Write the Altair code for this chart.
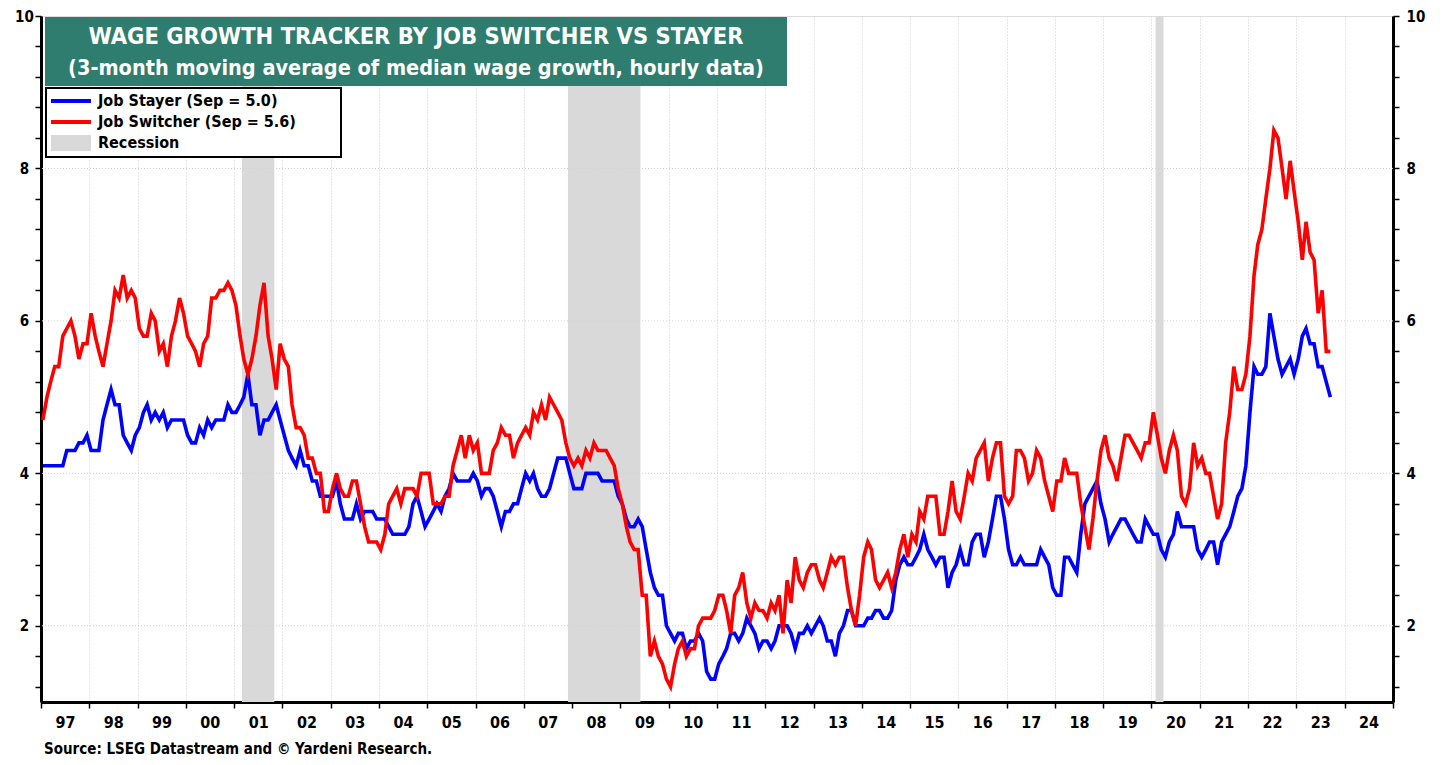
import altair as alt
import pandas as pd

# ---------------- data (monthly, Jan 1997 .. Sep 2023) ----------------
START_MONTH = "1997-01-01"

job_stayer = [
    4.1, 4.1, 4.1, 4.1, 4.1, 4.1, 4.3, 4.3, 4.3, 4.4, 4.4, 4.5,  # 1997
    4.3, 4.3, 4.3, 4.7, 4.9, 5.1, 4.9, 4.9, 4.5, 4.4, 4.3, 4.5,  # 1998
    4.6, 4.8, 4.9, 4.7, 4.8, 4.7, 4.8, 4.6, 4.7, 4.7, 4.7, 4.7,  # 1999
    4.5, 4.4, 4.4, 4.6, 4.5, 4.7, 4.6, 4.7, 4.7, 4.7, 4.9, 4.8,  # 2000
    4.8, 4.9, 5.0, 5.3, 4.9, 4.9, 4.5, 4.7, 4.7, 4.8, 4.9, 4.7,  # 2001
    4.5, 4.3, 4.2, 4.1, 4.3, 4.1, 4.1, 3.9, 3.9, 3.7, 3.7, 3.7,  # 2002
    3.7, 3.9, 3.6, 3.4, 3.4, 3.4, 3.6, 3.4, 3.5, 3.5, 3.5, 3.4,  # 2003
    3.4, 3.4, 3.3, 3.2, 3.2, 3.2, 3.2, 3.3, 3.6, 3.7, 3.5, 3.3,  # 2004
    3.4, 3.5, 3.6, 3.5, 3.7, 3.8, 4.0, 3.9, 3.9, 3.9, 3.9, 4.0,  # 2005
    3.9, 3.7, 3.8, 3.8, 3.7, 3.5, 3.3, 3.5, 3.5, 3.6, 3.6, 3.8,  # 2006
    4.0, 3.9, 4.0, 3.8, 3.7, 3.7, 3.8, 4.0, 4.2, 4.2, 4.2, 4.0,  # 2007
    3.8, 3.8, 3.8, 4.0, 4.0, 4.0, 4.0, 3.9, 3.9, 3.9, 3.9, 3.7,  # 2008
    3.6, 3.4, 3.3, 3.3, 3.4, 3.3, 3.0, 2.7, 2.5, 2.4, 2.4, 2.0,  # 2009
    1.9, 1.8, 1.9, 1.9, 1.7, 1.8, 1.8, 1.9, 1.8, 1.4, 1.3, 1.3,  # 2010
    1.5, 1.6, 1.7, 1.9, 1.9, 1.8, 1.9, 2.1, 2.0, 1.9, 1.7, 1.8,  # 2011
    1.8, 1.7, 1.8, 2.0, 2.0, 2.0, 1.9, 1.7, 1.9, 1.9, 2.0, 1.9,  # 2012
    2.0, 2.1, 2.0, 1.8, 1.8, 1.6, 1.9, 2.0, 2.2, 2.2, 2.0, 2.0,  # 2013
    2.0, 2.1, 2.1, 2.2, 2.2, 2.1, 2.1, 2.2, 2.6, 2.8, 2.9, 2.8,  # 2014
    2.8, 2.9, 3.0, 3.2, 3.0, 2.9, 2.8, 2.9, 2.9, 2.5, 2.7, 2.8,  # 2015
    3.0, 2.8, 2.8, 3.1, 3.2, 3.2, 2.9, 3.1, 3.4, 3.7, 3.7, 3.4,  # 2016
    3.0, 2.8, 2.8, 2.9, 2.8, 2.8, 2.8, 2.8, 3.0, 2.9, 2.8, 2.5,  # 2017
    2.4, 2.4, 2.9, 2.9, 2.8, 2.7, 3.2, 3.6, 3.7, 3.8, 3.9, 3.6,  # 2018
    3.4, 3.1, 3.2, 3.3, 3.4, 3.4, 3.3, 3.2, 3.1, 3.1, 3.4, 3.3,  # 2019
    3.2, 3.2, 3.0, 2.9, 3.1, 3.2, 3.5, 3.3, 3.3, 3.3, 3.3, 3.0,  # 2020
    2.9, 3.0, 3.1, 3.1, 2.8, 3.1, 3.2, 3.3, 3.5, 3.7, 3.8, 4.1,  # 2021
    4.8, 5.4, 5.3, 5.3, 5.4, 6.1, 5.8, 5.5, 5.3, 5.4, 5.5, 5.3,  # 2022
    5.5, 5.8, 5.9, 5.7, 5.7, 5.4, 5.4, 5.2, 5.0,                 # 2023
]

job_switcher = [
    4.7, 5.0, 5.2, 5.4, 5.4, 5.8, 5.9, 6.0, 5.8, 5.5, 5.7, 5.7,  # 1997
    6.1, 5.8, 5.6, 5.4, 5.7, 6.0, 6.4, 6.3, 6.6, 6.3, 6.4, 6.3,  # 1998
    5.9, 5.8, 5.8, 6.1, 6.0, 5.6, 5.7, 5.4, 5.8, 6.0, 6.3, 6.1,  # 1999
    5.8, 5.7, 5.6, 5.4, 5.7, 5.8, 6.3, 6.3, 6.4, 6.4, 6.5, 6.4,  # 2000
    6.2, 5.8, 5.5, 5.3, 5.5, 5.8, 6.2, 6.5, 5.8, 5.5, 5.1, 5.7,  # 2001
    5.5, 5.4, 4.9, 4.6, 4.6, 4.5, 4.2, 4.2, 4.0, 4.0, 3.5, 3.5,  # 2002
    3.8, 4.0, 3.8, 3.7, 3.7, 3.9, 3.9, 3.6, 3.3, 3.1, 3.1, 3.1,  # 2003
    3.0, 3.2, 3.6, 3.7, 3.8, 3.6, 3.8, 3.8, 3.8, 3.7, 4.0, 4.0,  # 2004
    4.0, 3.6, 3.6, 3.6, 3.7, 3.7, 4.1, 4.3, 4.5, 4.2, 4.5, 4.3,  # 2005
    4.4, 4.0, 4.0, 4.0, 4.3, 4.4, 4.6, 4.5, 4.5, 4.2, 4.4, 4.5,  # 2006
    4.6, 4.5, 4.8, 4.7, 4.9, 4.7, 5.0, 4.9, 4.8, 4.7, 4.4, 4.2,  # 2007
    4.1, 4.2, 4.1, 4.3, 4.2, 4.4, 4.3, 4.3, 4.3, 4.2, 4.1, 3.8,  # 2008
    3.6, 3.3, 3.1, 3.0, 3.0, 2.4, 2.4, 1.6, 1.8, 1.6, 1.5, 1.3,  # 2009
    1.2, 1.5, 1.7, 1.8, 1.6, 1.7, 1.7, 2.0, 2.1, 2.1, 2.1, 2.2,  # 2010
    2.4, 2.4, 2.2, 1.9, 2.4, 2.5, 2.7, 2.3, 2.1, 2.3, 2.2, 2.2,  # 2011
    2.1, 2.3, 2.2, 2.4, 1.9, 2.6, 2.3, 2.9, 2.6, 2.5, 2.7, 2.8,  # 2012
    2.8, 2.6, 2.5, 2.7, 2.9, 2.8, 2.9, 2.9, 2.5, 2.2, 2.0, 2.4,  # 2013
    2.9, 3.1, 3.0, 2.6, 2.5, 2.6, 2.7, 2.5, 2.7, 3.0, 3.2, 2.9,  # 2014
    3.2, 3.1, 3.5, 3.4, 3.7, 3.7, 3.7, 3.2, 3.2, 3.5, 3.9, 3.5,  # 2015
    3.4, 3.7, 4.0, 3.9, 4.2, 4.3, 4.4, 3.9, 4.2, 4.4, 4.4, 3.7,  # 2016
    3.6, 3.7, 4.3, 4.3, 4.2, 3.9, 4.0, 4.3, 4.2, 3.9, 3.7, 3.5,  # 2017
    3.9, 3.9, 4.2, 4.0, 4.0, 4.0, 3.6, 3.3, 3.0, 3.4, 3.9, 4.3,  # 2018
    4.5, 4.2, 4.1, 3.9, 4.2, 4.5, 4.5, 4.4, 4.3, 4.2, 4.4, 4.4,  # 2019
    4.8, 4.5, 4.2, 4.0, 4.3, 4.5, 4.3, 3.7, 3.6, 3.8, 4.4, 4.1,  # 2020
    4.2, 4.0, 4.0, 3.7, 3.4, 3.6, 4.4, 4.8, 5.4, 5.1, 5.1, 5.3,  # 2021
    5.8, 6.6, 7.0, 7.2, 7.6, 8.0, 8.5, 8.4, 8.0, 7.6, 8.1, 7.7,  # 2022
    7.3, 6.8, 7.3, 6.9, 6.8, 6.1, 6.4, 5.6, 5.6,                 # 2023
]

recession_start = ["2001-03-01", "2007-12-01", "2020-02-01"]
recession_end = ["2001-11-01", "2009-06-01", "2020-04-01"]

year_ticks = list(range(1997, 2026))
y_tick_values = [round(10 - 0.4 * i, 1) for i in range(23)]
h_grid_values = [2, 4, 6, 8]

TITLE_1 = "WAGE GROWTH TRACKER BY JOB SWITCHER VS STAYER"
TITLE_2 = "(3-month moving average of median wage growth, hourly data)"
LEGEND_LABELS = ["Job Stayer (Sep = 5.0)", "Job Switcher (Sep = 5.6)", "Recession"]
SOURCE = "Source: LSEG Datastream and \u00a9 Yardeni Research."

# ---------------- frames ----------------
dates = (pd.date_range(START_MONTH, periods=len(job_stayer), freq="MS")
         + pd.Timedelta(days=14)).strftime("%Y-%m-%d")
df_stayer = pd.DataFrame({"date": dates, "value": job_stayer})
df_switcher = pd.DataFrame({"date": dates, "value": job_switcher})
df_rec = pd.DataFrame({"start": recession_start, "end": recession_end})
df_hgrid = pd.DataFrame({"v": h_grid_values})

FONT = "Liberation Sans Narrow, DejaVu Sans Condensed, Arial Narrow, Roboto Condensed, sans-serif"
W, H = 1352, 686

x_scale = alt.Scale(type="utc",
                    domain=[alt.DateTime(year=1997, month=1, date=1, utc=True),
                            alt.DateTime(year=2025, month=1, date=1, utc=True)])
y_scale = alt.Scale(domain=[1, 10], nice=False, zero=False)

x_axis = alt.Axis(
    values=[alt.DateTime(year=y, month=1, date=1, utc=True) for y in year_ticks],
    labelExpr="utcyear(datum.value) < 2025 ? utcFormat(datum.value, '%y') : ''",
    labelOffset=24, labelPadding=6, tickSize=6, tickColor="black", tickWidth=1.5,
    domainColor="black", domainWidth=3, labelFont=FONT, labelFontSize=16,
    labelFontWeight="bold", labelColor="black", grid=True, gridColor="#cfcfcf",
    gridDash=[1, 2], gridWidth=1, title=None, labelFlush=False, labelOverlap=False,
)

label_expr_y = "abs(datum.value - round(datum.value / 2) * 2) < 0.01 ? format(datum.value, 'd') : ''"
left_axis = alt.Axis(
    orient="left", values=y_tick_values, labelExpr=label_expr_y, tickSize=6,
    tickColor="black", tickWidth=1.5, domainColor="black", domainWidth=3,
    labelFont=FONT, labelFontSize=15, labelFontWeight="bold", labelColor="black",
    labelAlign="center", labelPadding=11, grid=False, title=None, labelOverlap=False,
    labelFlush=False,
)
right_axis = alt.Axis(
    orient="right", values=y_tick_values, labelExpr=label_expr_y, tickSize=6,
    tickColor="black", tickWidth=1.5, domainColor="black", domainWidth=3,
    labelFont=FONT, labelFontSize=15, labelFontWeight="bold", labelColor="black",
    labelAlign="left", labelPadding=7, grid=False, title=None, labelOverlap=False,
    labelFlush=False,
)

X = alt.X("date:T", scale=x_scale, axis=x_axis)

recessions = alt.Chart(df_rec).mark_rect(color="#d9d9d9").encode(
    x=alt.X("start:T", scale=x_scale, axis=x_axis), x2="end:T")

hgrid = alt.Chart(df_hgrid).mark_rule(color="#cfcfcf", strokeDash=[1, 2], strokeWidth=1).encode(
    y=alt.Y("v:Q", scale=y_scale, axis=None))

stayer_line = alt.Chart(df_stayer).mark_line(color="#0000ff", strokeWidth=3.6).encode(
    x=X, y=alt.Y("value:Q", scale=y_scale, axis=left_axis))
switcher_line = alt.Chart(df_switcher).mark_line(color="#ff0000", strokeWidth=3.6).encode(
    x=X, y=alt.Y("value:Q", scale=y_scale, axis=right_axis))

# ---------------- title box ----------------
one = pd.DataFrame({"k": [0]})
title_box = alt.Chart(one).mark_rect(color="#2e7d6e").encode(
    x=alt.value(4), x2=alt.value(746), y=alt.value(1), y2=alt.value(70))
title1 = alt.Chart(pd.DataFrame({"t": [TITLE_1]})).mark_text(
    font=FONT, fontSize=23.5, fontWeight="bold", color="white", align="center", baseline="middle"
).encode(text="t:N", x=alt.value(375), y=alt.value(21))
title2 = alt.Chart(pd.DataFrame({"t": [TITLE_2]})).mark_text(
    font=FONT, fontSize=21.5, fontWeight="bold", color="white", align="center", baseline="middle"
).encode(text="t:N", x=alt.value(375), y=alt.value(53))

# ---------------- legend ----------------
legend_box = alt.Chart(one).mark_rect(fill="white", stroke="black", strokeWidth=2).encode(
    x=alt.value(5), x2=alt.value(300), y=alt.value(72), y2=alt.value(141))
leg_blue = alt.Chart(one).mark_rule(color="#0000ff", strokeWidth=4).encode(
    x=alt.value(10), x2=alt.value(50), y=alt.value(85))
leg_red = alt.Chart(one).mark_rule(color="#ff0000", strokeWidth=4).encode(
    x=alt.value(10), x2=alt.value(50), y=alt.value(106))
leg_grey = alt.Chart(one).mark_rect(color="#d9d9d9").encode(
    x=alt.value(10), x2=alt.value(50), y=alt.value(119), y2=alt.value(135))
leg_texts = []
for lbl, yy in zip(LEGEND_LABELS, [85, 106, 127]):
    leg_texts.append(
        alt.Chart(pd.DataFrame({"t": [lbl]})).mark_text(
            font=FONT, fontSize=16, fontWeight="bold", color="black", align="left", baseline="middle"
        ).encode(text="t:N", x=alt.value(57), y=alt.value(yy)))

source = alt.Chart(pd.DataFrame({"t": [SOURCE]})).mark_text(
    font=FONT, fontSize=15, fontWeight="bold", color="black", align="left", baseline="middle"
).encode(text="t:N", x=alt.value(3), y=alt.value(733))

chart = alt.layer(
    recessions, hgrid, stayer_line, switcher_line,
    title_box, title1, title2, legend_box, leg_blue, leg_red, leg_grey, *leg_texts, source,
).resolve_axis(y="independent").properties(
    width=W, height=H,
    autosize=alt.AutoSizeParams(type="none"),
    padding={"left": 33, "top": 8, "right": 41, "bottom": 55},
).configure_view(stroke="black", strokeWidth=3).configure(background="white")

chart.save("out.html", embed_options={"renderer": "svg", "actions": False})
